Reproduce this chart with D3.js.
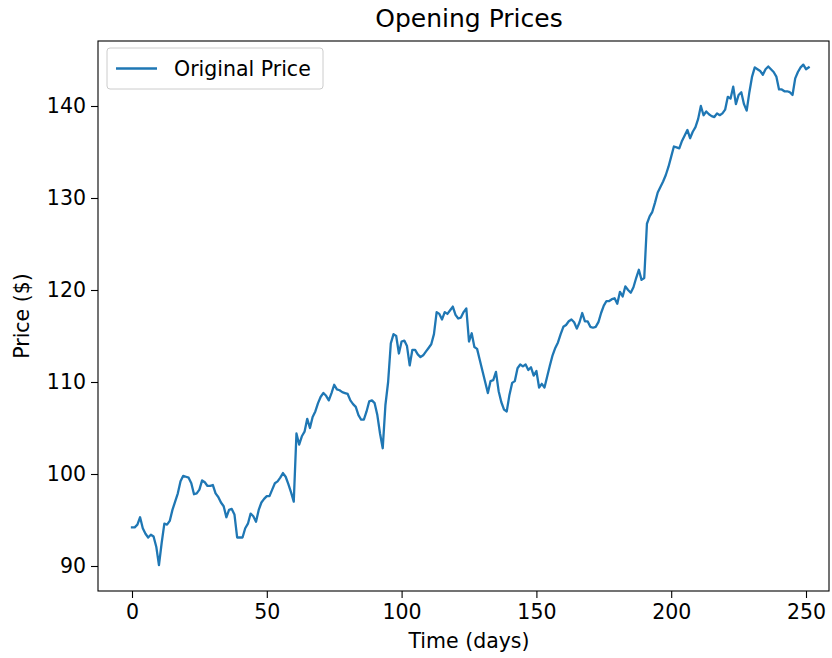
<!DOCTYPE html>
<html>
<head>
<meta charset="utf-8">
<script src="https://cdn.jsdelivr.net/npm/d3@7"></script>
<style>
  html, body { margin: 0; padding: 0; background: #fff; }
  svg { display: block; font-family: "DejaVu Sans", sans-serif; }
</style>
</head>
<body>
<svg id="chart" width="832" height="658"></svg>
<script>
// ---- data ----
const chartTitle = "Opening Prices";
const xLabel = "Time (days)";
const yLabel = "Price ($)";
const seriesName = "Original Price";
const xTicks = [0, 50, 100, 150, 200, 250];
const yTicks = [90, 100, 110, 120, 130, 140];
const prices = [
  94.2, 94.2, 94.5, 95.3, 94.1, 93.5, 93.1, 93.4, 93.2, 92.1,
  90.1, 92.5, 94.6, 94.5, 94.9, 96.1, 97.0, 97.9, 99.2, 99.8,
  99.7, 99.6, 99.0, 97.8, 97.9, 98.3, 99.3, 99.1, 98.7, 98.7,
  98.8, 97.9, 97.5, 96.9, 96.5, 95.3, 96.1, 96.2, 95.6, 93.1,
  93.1, 93.1, 94.1, 94.6, 95.7, 95.4, 94.8, 96.1, 96.9, 97.3,
  97.6, 97.6, 98.3, 99.0, 99.2, 99.6, 100.1, 99.7, 98.9, 98.0,
  97.0, 104.4, 103.2, 104.1, 104.6, 106.0, 105.0, 106.2, 106.8, 107.7,
  108.4, 108.8, 108.5, 108.0, 108.8, 109.7, 109.2, 109.1, 108.9, 108.8,
  108.7, 108.0, 107.6, 107.3, 106.4, 105.9, 105.9, 106.8, 107.9, 108.0,
  107.7, 106.4, 104.4, 102.8, 107.5, 110.0, 114.2, 115.2, 115.0, 113.1,
  114.4, 114.5, 113.9, 111.8, 113.5, 113.5, 113.0, 112.7, 112.9, 113.3,
  113.7, 114.1, 115.2, 117.6, 117.4, 116.8, 117.6, 117.4, 117.8, 118.2,
  117.3, 116.9, 117.0, 117.6, 118.0, 114.4, 115.3, 113.8, 113.6, 112.4,
  111.2, 110.0, 108.8, 110.1, 110.2, 111.1, 109.0, 107.8, 107.0, 106.8,
  108.6, 109.9, 110.1, 111.5, 111.9, 111.7, 111.9, 111.3, 111.6, 110.7,
  111.2, 109.4, 109.8, 109.4, 110.6, 111.8, 112.9, 113.7, 114.3, 115.2,
  116.0, 116.2, 116.6, 116.8, 116.5, 115.8, 116.5, 117.5, 116.6, 116.6,
  116.0, 115.9, 116.0, 116.5, 117.5, 118.3, 118.8, 118.8, 119.0, 119.1,
  118.5, 119.8, 119.3, 120.4, 120.0, 119.7, 120.3, 121.3, 122.2, 121.1,
  121.3, 127.2, 128.0, 128.5, 129.5, 130.6, 131.2, 131.8, 132.5, 133.4,
  134.5, 135.6, 135.5, 135.4, 136.2, 136.8, 137.4, 136.5, 137.2, 137.7,
  138.6, 140.0, 139.0, 139.4, 139.1, 138.9, 138.8, 139.2, 139.0, 139.2,
  139.6, 141.0, 140.8, 142.1, 140.2, 141.2, 141.5, 140.2, 139.5, 141.5,
  143.2, 144.2, 144.0, 143.8, 143.4, 144.0, 144.3, 144.0, 143.7, 143.2,
  141.8, 141.8, 141.6, 141.6, 141.5, 141.2, 143.0, 143.7, 144.2, 144.5,
  144.0, 144.2
];
const days = prices.map((_, i) => i);

// ---- layout ----
const frame = { left: 98, right: 829, top: 41, bottom: 591 };
const svg = d3.select("#chart");

const x = d3.scaleLinear().domain([0, 250]).range([132, 806]);
const y = d3.scaleLinear().domain([90, 140]).range([566, 106]);

svg.append("defs").append("clipPath").attr("id", "clip")
  .append("rect")
  .attr("x", frame.left).attr("y", frame.top)
  .attr("width", frame.right - frame.left).attr("height", frame.bottom - frame.top);

// line
const line = d3.line().x((d, i) => x(days[i])).y(d => y(d));
svg.append("path")
  .datum(prices)
  .attr("clip-path", "url(#clip)")
  .attr("fill", "none")
  .attr("stroke", "#1f77b4")
  .attr("stroke-width", 2.3)
  .attr("stroke-linejoin", "round")
  .attr("stroke-linecap", "square")
  .attr("d", line);

// axes
const fs = 20.5;
const xAxis = d3.axisBottom(x).tickValues(xTicks).tickSize(7).tickPadding(5);
const gx = svg.append("g").attr("transform", `translate(0,${frame.bottom})`).call(xAxis);
const yAxis = d3.axisLeft(y).tickValues(yTicks).tickSize(7).tickPadding(5);
const gy = svg.append("g").attr("transform", `translate(${frame.left},0)`).call(yAxis);
[gx, gy].forEach(g => {
  g.select(".domain").remove();
  g.selectAll(".tick line").attr("stroke", "#000").attr("stroke-width", 1.1);
  g.selectAll(".tick text").attr("fill", "#000")
    .style("font-family", "DejaVu Sans, sans-serif").style("font-size", fs + "px");
});
gx.selectAll(".tick text").attr("dy", "0.76em");

// frame
svg.append("rect")
  .attr("x", frame.left).attr("y", frame.top)
  .attr("width", frame.right - frame.left).attr("height", frame.bottom - frame.top)
  .attr("fill", "none").attr("stroke", "#000").attr("stroke-width", 1.1);

// title and labels
svg.append("text").attr("x", 469).attr("y", 27)
  .attr("text-anchor", "middle").style("font-size", "25px").text(chartTitle);
svg.append("text").attr("x", 469).attr("y", 648)
  .attr("text-anchor", "middle").style("font-size", fs + "px").text(xLabel);
svg.append("text")
  .attr("transform", `translate(29,${(frame.top + frame.bottom) / 2}) rotate(-90)`)
  .attr("text-anchor", "middle").style("font-size", fs + "px").text(yLabel);

// legend
const lg = svg.append("g");
lg.append("rect").attr("x", 107).attr("y", 48).attr("width", 216).attr("height", 41)
  .attr("rx", 3).attr("fill", "#fff").attr("fill-opacity", 0.8)
  .attr("stroke", "#cccccc").attr("stroke-width", 1);
lg.append("line").attr("x1", 116).attr("x2", 157).attr("y1", 68.5).attr("y2", 68.5)
  .attr("stroke", "#1f77b4").attr("stroke-width", 2.3);
lg.append("text").attr("x", 174).attr("y", 75.5).style("font-size", fs + "px").text(seriesName);
</script>
</body>
</html>
